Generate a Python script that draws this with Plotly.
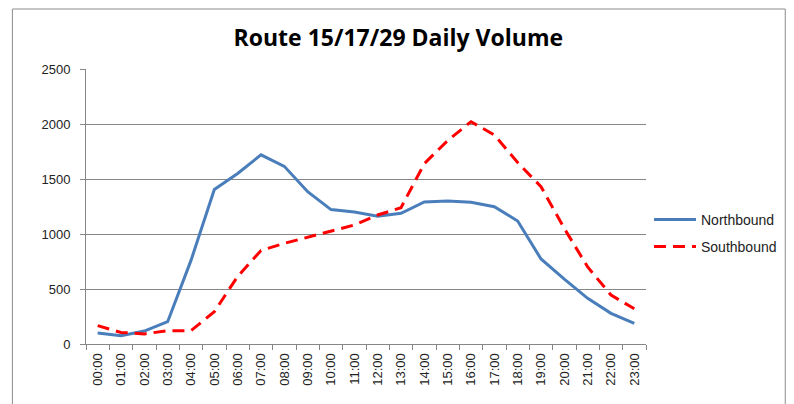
import plotly.graph_objects as go

hours = [f"{h:02d}:00" for h in range(24)]
northbound = [100, 75, 118, 203, 760, 1405, 1550, 1720, 1615, 1385, 1222, 1200, 1162, 1188, 1291, 1300, 1288, 1248, 1118, 773, 590, 415, 279, 188]
southbound = [167, 105, 92, 121, 121, 294, 615, 850, 915, 970, 1021, 1082, 1173, 1239, 1640, 1850, 2021, 1900, 1650, 1430, 1050, 700, 445, 320]
y_ticks = [0, 500, 1000, 1500, 2000, 2500]

# the page body adds an 8px margin; work in screen coords and shift
O = 8
W, H = 794 - O, 404 - O
L, R, T, B = 86 - O, 649 - O, 69 - O, 344 - O
pw, ph = R - L, B - T


def px(x):
    return (x - O - L) / pw


def py(y):
    return (B - (y - O)) / ph


fig = go.Figure()
fig.add_trace(go.Scatter(x=hours, y=northbound, mode="lines", name="Northbound",
                         line=dict(color="#4a7ebb", width=3), legend="legend"))
fig.add_trace(go.Scatter(x=hours, y=southbound, mode="lines", name="Southbound",
                         line=dict(color="#ff0000", width=3, dash="12px,7px"), legend="legend2"))

leg_common = dict(xanchor="left", yanchor="middle", font=dict(size=14, color="#222"),
                  bgcolor="rgba(0,0,0,0)", itemwidth=42)

fig.update_layout(
    width=W, height=H,
    margin=dict(l=L, r=W - R, t=T, b=H - B),
    paper_bgcolor="white", plot_bgcolor="white",
    font=dict(family="Liberation Sans, Arial, sans-serif", size=13, color="#222"),
    title=dict(text="<b>Route 15/17/29 Daily Volume</b>", x=px(400), xref="paper",
               xanchor="center", y=1 - (38 - O) / H, yanchor="middle",
               font=dict(size=23, color="#000", family="Open Sans, Liberation Sans, sans-serif")),
    showlegend=True,
    legend=dict(x=px(652), y=py(220), **leg_common),
    legend2=dict(x=px(652), y=py(247), **leg_common),
    shapes=[dict(type="rect", xref="paper", yref="paper",
                 x0=px(12), x1=px(789), y0=py(440), y1=py(9),
                 line=dict(color="#8c8c8c", width=1), layer="below")],
)
fig.update_xaxes(type="category", showgrid=False, showline=True, linecolor="#868686", linewidth=1,
                 ticks="outside", ticklen=5, tickcolor="#868686", tickson="boundaries",
                 tickangle=-90, tickfont=dict(size=13), range=[-0.5, 23.5], ticklabelstandoff=3)
fig.update_yaxes(range=[0, 2500], tickvals=y_ticks, showgrid=True, gridcolor="#868686", gridwidth=1,
                 showline=True, linecolor="#868686", linewidth=1, ticks="outside", ticklen=5,
                 tickcolor="#868686", zeroline=False, tickfont=dict(size=13), ticklabelstandoff=7)

fig.write_html("out.html")
